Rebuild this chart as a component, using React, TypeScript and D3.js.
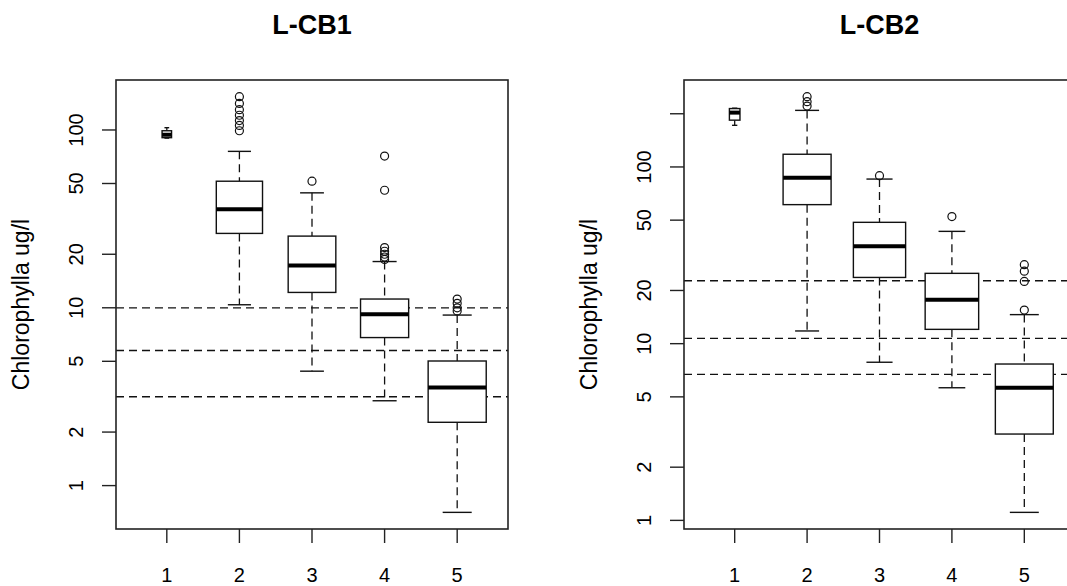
import React from "react";
import * as d3 from "d3";

// ---------- data ----------
const groups = [1, 2, 3, 4, 5];
const yTicks = [1, 2, 5, 10, 20, 50, 100, 200];

// L-CB1
const cb1Lower = [90, 10.4, 4.4, 3.0, 0.707];
const cb1Q1 = [90.5, 26.2, 12.2, 6.8, 2.27];
const cb1Median = [94, 35.8, 17.3, 9.2, 3.56];
const cb1Q3 = [99, 51.5, 25.3, 11.2, 5.02];
const cb1Upper = [103, 75.8, 44.3, 18.2, 9.1];
const cb1Outliers = [
  [],
  [154, 141, 130, 121, 113, 106, 99],
  [51.5],
  [71.3, 45.8, 21.8, 20.8, 20, 19.3, 18.7],
  [11.2, 10.6, 10, 9.6],
];
const cb1N = [4, 95, 101, 103, 150];
const cb1Thresholds = [10, 5.75, 3.16];
const cb1TickLabels = ["1", "2", "5", "10", "20", "50", "100", ""];

// L-CB2
const cb2Lower = [172, 11.8, 7.85, 5.63, 1.11];
const cb2Q1 = [184, 61.2, 23.7, 12.05, 3.08];
const cb2Median = [203, 86.8, 35.6, 17.7, 5.63];
const cb2Q3 = [214, 118, 48.6, 25, 7.67];
const cb2Upper = [215, 209, 85.4, 43.2, 14.6];
const cb2Outliers = [
  [],
  [250, 234, 221],
  [89.2],
  [52.4],
  [28, 25.7, 22.5, 15.5],
];
const cb2N = [5, 103, 122, 128, 150];
const cb2Thresholds = [22.7, 10.7, 6.7];
const cb2TickLabels = ["1", "2", "5", "10", "20", "50", "100", ""];

const FONT = "'Liberation Sans', Arial, sans-serif";
const TOP = 80;
const BOTTOM = 529;
const INK = "#111";

type PanelProps = {
  title: string;
  x0: number;
  x1: number;
  lower: number[];
  q1: number[];
  median: number[];
  q3: number[];
  upper: number[];
  outliers: number[][];
  n: number[];
  thresholds: number[];
  tickLabels: string[];
};

function Panel(p: PanelProps) {
  const all = [...p.lower, ...p.upper, ...p.outliers.flat()];
  const lmin = Math.log10(d3.min(all) as number);
  const lmax = Math.log10(d3.max(all) as number);
  const pad = (lmax - lmin) * 0.04;
  const y = d3
    .scaleLog()
    .domain([10 ** (lmin - pad), 10 ** (lmax + pad)])
    .range([BOTTOM, TOP]);
  const x = d3.scaleLinear().domain([0.3, 5.7]).range([p.x0, p.x1]);
  const maxW = 0.8 * (x(2) - x(1));
  const sq = p.n.map((v) => Math.sqrt(v));
  const mx = d3.max(sq) as number;
  const dom = y.domain();
  const ticks = yTicks
    .map((t, i) => ({ t, label: p.tickLabels[i] }))
    .filter((d) => d.t >= dom[0] && d.t <= dom[1]);
  const cx = (p.x0 + p.x1) / 2;
  const cy = (TOP + BOTTOM) / 2;

  return (
    <g>
      <text
        x={cx}
        y={34}
        textAnchor="middle"
        fontFamily={FONT}
        fontWeight="bold"
        fontSize={27}
        fill="#000"
      >
        {p.title}
      </text>
      <defs>
        <clipPath id={"clip-" + p.title}>
          <rect x={p.x0} y={TOP} width={p.x1 - p.x0} height={BOTTOM - TOP} />
        </clipPath>
      </defs>
      {/* threshold lines */}
      <g clipPath={`url(#clip-${p.title})`}>
        {p.thresholds.map((t, i) => (
          <line
            key={i}
            x1={p.x0}
            x2={p.x1}
            y1={y(t)}
            y2={y(t)}
            stroke={INK}
            strokeWidth={1.3}
            strokeDasharray="8,5"
          />
        ))}
      </g>
      {/* boxes */}
      {groups.map((g, i) => {
        const w = (maxW * sq[i]) / mx;
        const cxg = x(g);
        const capW = w / 2;
        return (
          <g key={g}>
            <line
              x1={cxg}
              x2={cxg}
              y1={y(p.upper[i])}
              y2={y(p.q3[i])}
              stroke={INK}
              strokeWidth={1.3}
              strokeDasharray="8,5"
            />
            <line
              x1={cxg}
              x2={cxg}
              y1={y(p.q1[i])}
              y2={y(p.lower[i])}
              stroke={INK}
              strokeWidth={1.3}
              strokeDasharray="8,5"
            />
            <line
              x1={cxg - capW / 2}
              x2={cxg + capW / 2}
              y1={y(p.upper[i])}
              y2={y(p.upper[i])}
              stroke={INK}
              strokeWidth={1.4}
            />
            <line
              x1={cxg - capW / 2}
              x2={cxg + capW / 2}
              y1={y(p.lower[i])}
              y2={y(p.lower[i])}
              stroke={INK}
              strokeWidth={1.4}
            />
            <rect
              x={cxg - w / 2}
              y={y(p.q3[i])}
              width={w}
              height={y(p.q1[i]) - y(p.q3[i])}
              fill="#fff"
              stroke={INK}
              strokeWidth={1.4}
            />
            <line
              x1={cxg - w / 2}
              x2={cxg + w / 2}
              y1={y(p.median[i])}
              y2={y(p.median[i])}
              stroke="#000"
              strokeWidth={4}
            />
            {p.outliers[i].map((o, k) => (
              <circle
                key={k}
                cx={cxg}
                cy={y(o)}
                r={4}
                fill="none"
                stroke={INK}
                strokeWidth={1.2}
              />
            ))}
          </g>
        );
      })}
      {/* frame */}
      <rect
        x={p.x0}
        y={TOP}
        width={p.x1 - p.x0}
        height={BOTTOM - TOP}
        fill="none"
        stroke="#222"
        strokeWidth={1.6}
      />
      {/* y axis */}
      {ticks.map((d) => (
        <g key={d.t}>
          <line
            x1={p.x0 - 14}
            x2={p.x0}
            y1={y(d.t)}
            y2={y(d.t)}
            stroke="#222"
            strokeWidth={1.4}
          />
          {d.label && (
            <text
              transform={`translate(${p.x0 - 40},${y(d.t)}) rotate(-90)`}
              textAnchor="middle"
              dominantBaseline="central"
              fontFamily={FONT}
              fontSize={20}
              fill="#000"
            >
              {d.label}
            </text>
          )}
        </g>
      ))}
      {/* x axis */}
      {groups.map((g) => (
        <g key={g}>
          <line
            x1={x(g)}
            x2={x(g)}
            y1={BOTTOM}
            y2={BOTTOM + 14}
            stroke="#222"
            strokeWidth={1.4}
          />
          <text
            x={x(g)}
            y={BOTTOM + 46}
            textAnchor="middle"
            dominantBaseline="central"
            fontFamily={FONT}
            fontSize={20}
            fill="#000"
          >
            {g}
          </text>
        </g>
      ))}
      <text
        transform={`translate(${p.x0 - 95},${cy}) rotate(-90)`}
        textAnchor="middle"
        dominantBaseline="central"
        fontFamily={FONT}
        fontSize={23}
        fill="#000"
      >
        Chlorophylla ug/l
      </text>
    </g>
  );
}

export default function App() {
  return (
    <div style={{ position: "absolute", left: 0, top: 0 }}>
      <svg width={1067} height={586} style={{ display: "block", background: "#fff" }}>
        <rect width={1067} height={586} fill="#fff" />
        <Panel
          title="L-CB1"
          x0={116}
          x1={508}
          lower={cb1Lower}
          q1={cb1Q1}
          median={cb1Median}
          q3={cb1Q3}
          upper={cb1Upper}
          outliers={cb1Outliers}
          n={cb1N}
          thresholds={cb1Thresholds}
          tickLabels={cb1TickLabels}
        />
        <Panel
          title="L-CB2"
          x0={684}
          x1={1075}
          lower={cb2Lower}
          q1={cb2Q1}
          median={cb2Median}
          q3={cb2Q3}
          upper={cb2Upper}
          outliers={cb2Outliers}
          n={cb2N}
          thresholds={cb2Thresholds}
          tickLabels={cb2TickLabels}
        />
      </svg>
    </div>
  );
}
